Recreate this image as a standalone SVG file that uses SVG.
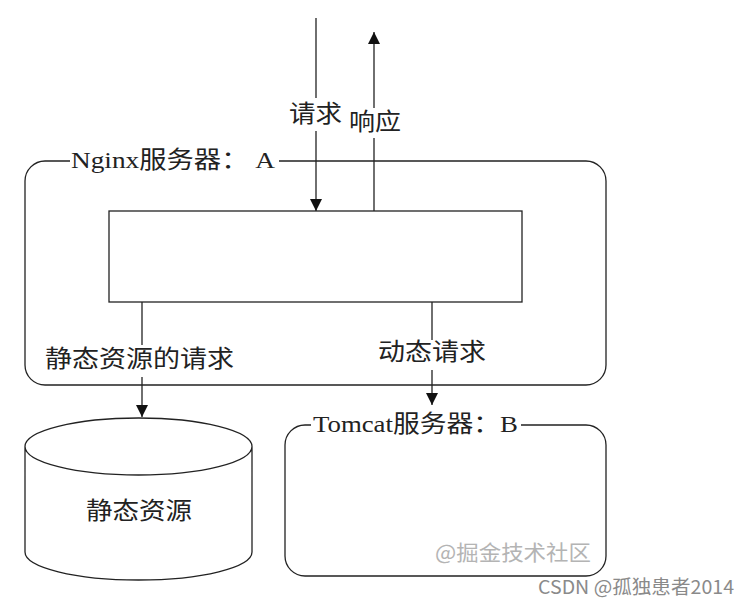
<svg xmlns="http://www.w3.org/2000/svg" width="749" height="604" viewBox="0 0 749 604">
<defs>
<style>
.ln{stroke:#222;stroke-width:1.3;fill:none}
.t{font-family:"Liberation Serif","Noto Sans CJK SC",serif;font-size:24px;fill:#222}
.bg{fill:#fff}
</style>
<marker id="ah" viewBox="0 0 12 12" refX="12" refY="6" markerWidth="12" markerHeight="12" markerUnits="userSpaceOnUse" orient="auto">
<path d="M0,0 L12,6 L0,12 Z" fill="#111"/>
</marker>
</defs>
<rect width="749" height="604" fill="#fff"/>
<g id="nginx">
<rect class="ln" x="25" y="161" width="581" height="224" rx="20" ry="20"/>
<rect class="bg" x="70" y="150" width="209" height="22"/>
<text class="t" x="71" y="168" textLength="204" lengthAdjust="spacingAndGlyphs">Nginx服务器： A</text>
</g>
<g id="inner">
<rect class="ln" x="109" y="211" width="413" height="91" fill="#fff"/>
</g>
<g id="static">
<path class="ln" d="M25,446.5 A113.5,28.5 0 0 1 252,446.5 V552 A113.5,28 0 0 1 25,552 Z M25,446.5 A113.5,28.5 0 0 0 252,446.5"/>
<text class="t" x="86" y="519" textLength="106" lengthAdjust="spacingAndGlyphs">静态资源</text>
</g>
<g id="tomcat">
<rect class="ln" x="285" y="425" width="321" height="151" rx="20" ry="20"/>
<rect class="bg" x="311" y="412" width="210" height="24"/>
<text class="t" x="313" y="432" textLength="205" lengthAdjust="spacingAndGlyphs">Tomcat服务器：B</text>
</g>
<g id="connectors">
<line class="ln" x1="316" y1="18" x2="316" y2="211" marker-end="url(#ah)"/>
<line class="ln" x1="374" y1="211" x2="374" y2="32" marker-end="url(#ah)"/>
<line class="ln" x1="142" y1="302" x2="142" y2="417" marker-end="url(#ah)"/>
<line class="ln" x1="432" y1="302" x2="432" y2="405" marker-end="url(#ah)"/>
<rect class="bg" x="288" y="98" width="56" height="33"/>
<text class="t" x="289" y="122" textLength="53" lengthAdjust="spacingAndGlyphs">请求</text>
<rect class="bg" x="348" y="108" width="55" height="30"/>
<text class="t" x="349" y="130" textLength="52" lengthAdjust="spacingAndGlyphs">响应</text>
<rect class="bg" x="44" y="345" width="192" height="32"/>
<text class="t" x="45" y="367" textLength="189" lengthAdjust="spacingAndGlyphs">静态资源的请求</text>
<rect class="bg" x="377" y="340" width="111" height="30"/>
<text class="t" x="378" y="360" textLength="108" lengthAdjust="spacingAndGlyphs">动态请求</text>
</g>
<text x="435" y="560" textLength="156" lengthAdjust="spacingAndGlyphs" style="font-family:'Noto Sans CJK SC',sans-serif;font-size:21px;fill:#b4b4b4">@掘金技术社区</text>
<text x="538" y="594" textLength="196" lengthAdjust="spacingAndGlyphs" style="font-family:'Noto Sans CJK SC',sans-serif;font-size:19px;fill:#8a8a8a">CSDN @孤独患者2014</text>
</svg>
